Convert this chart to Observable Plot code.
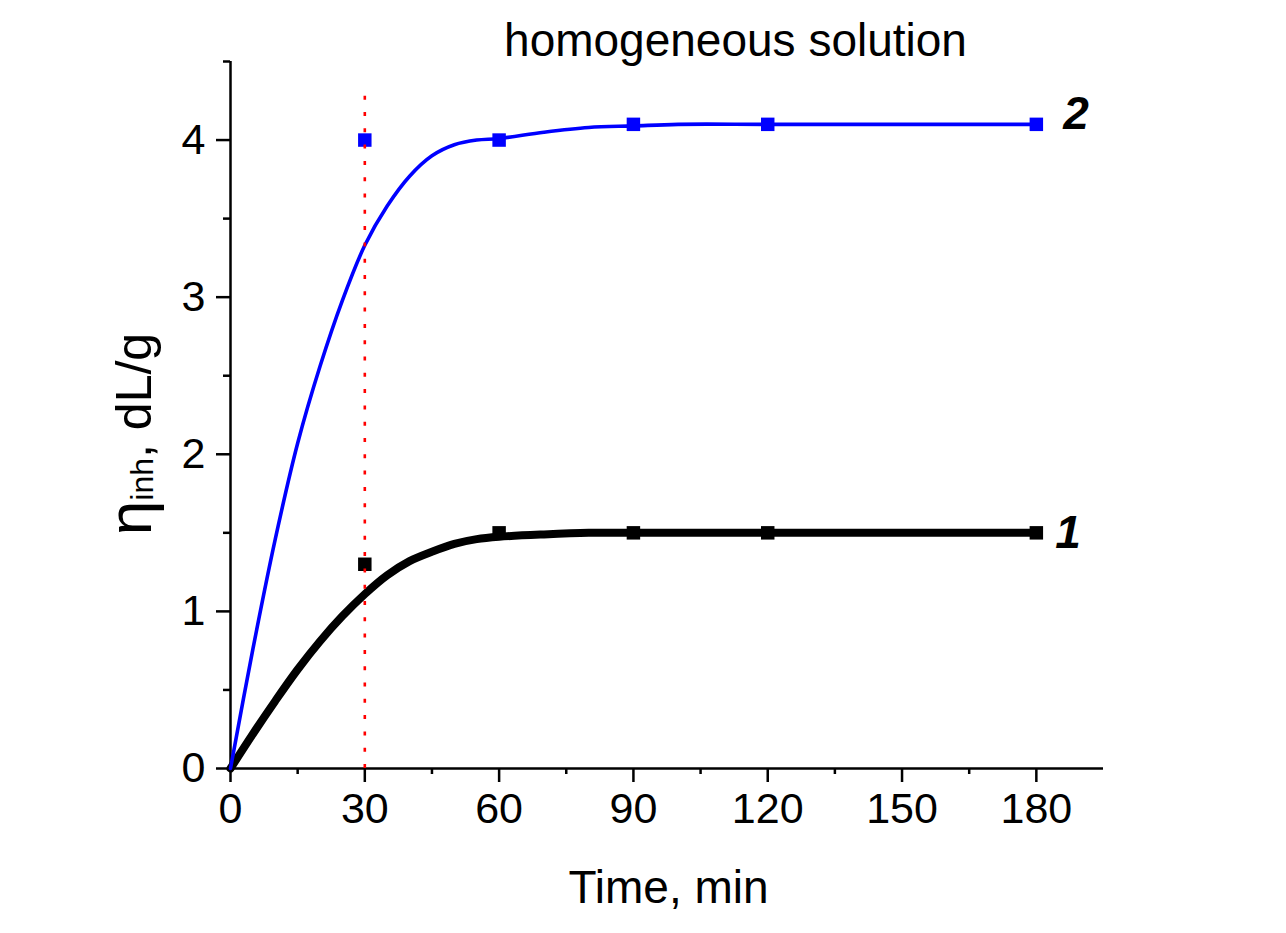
<!DOCTYPE html>
<html>
<head>
<meta charset="utf-8">
<script src="https://cdn.jsdelivr.net/npm/d3@7"></script>
<script src="https://cdn.jsdelivr.net/npm/@observablehq/plot@0.6"></script>
<style>
  html, body { margin: 0; padding: 0; background: #fff; }
  #chart svg { display: block; }
</style>
</head>
<body>
<div id="chart"></div>
<script>
// ---- data ----
const curve1T = [0, 5, 10, 15, 20, 25, 30, 35, 40, 45, 50, 55, 60, 70, 80, 90, 120, 150, 180];
const curve1V = [0, 0.22, 0.43, 0.63, 0.81, 0.97, 1.11, 1.23, 1.32, 1.38, 1.43, 1.46, 1.475, 1.49, 1.5, 1.5, 1.5, 1.5, 1.5];
const curve2T = [0, 5, 10, 15, 20, 25, 30, 35, 40, 45, 50, 55, 60, 70, 80, 90, 100, 120, 150, 180];
const curve2V = [0, 0.76, 1.46, 2.07, 2.56, 2.98, 3.33, 3.58, 3.77, 3.9, 3.97, 4.0, 4.01, 4.05, 4.08, 4.09, 4.1, 4.1, 4.1, 4.1];
const pointsT = [30, 60, 90, 120, 180];
const points1V = [1.3, 1.5, 1.5, 1.5, 1.5];
const points2V = [4.0, 4.0, 4.1, 4.1, 4.1];
const seriesNames = ["1", "2"];
const refLineX = [30];
const refLineTop = 4.32;
const xMajorTicks = [0, 30, 60, 90, 120, 150, 180];
const xMinorTicks = [15, 45, 75, 105, 135, 165];
const yMajorTicks = [0, 1, 2, 3, 4];
const yMinorTicks = [0.5, 1.5, 2.5, 3.5, 4.5];
const titleText = "homogeneous solution";
const xLabel = "Time, min";

const line1 = curve1T.map((t, i) => ({t, v: curve1V[i]}));
const line2 = curve2T.map((t, i) => ({t, v: curve2V[i]}));
const pts1 = pointsT.map((t, i) => ({t, v: points1V[i]}));
const pts2 = pointsT.map((t, i) => ({t, v: points2V[i]}));
const end1 = [{t: pointsT[pointsT.length - 1], v: points1V[points1V.length - 1], name: seriesNames[0]}];
const end2 = [{t: pointsT[pointsT.length - 1], v: points2V[points2V.length - 1], name: seriesNames[1]}];

const FONT = "'Liberation Sans', Arial, Helvetica, sans-serif";
const AX = 2.5;
const fmt = (d) => String(d);

const svg = Plot.plot({
  width: 1286,
  height: 933,
  marginLeft: 230,
  marginRight: 183,
  marginTop: 61,
  marginBottom: 165,
  style: {fontFamily: FONT, fontSize: "43px", color: "#000", background: "#fff", overflow: "visible"},
  x: {domain: [0, 195], ticks: xMajorTicks, label: null},
  y: {domain: [0, 4.5], ticks: yMajorTicks, label: null},
  marks: [
    // axes
    Plot.axisX(xMinorTicks, {tickSize: 6, text: null, strokeWidth: AX, label: null}),
    Plot.axisX(xMajorTicks, {tickSize: 14, tickPadding: 10, strokeWidth: AX, fontSize: 43, tickFormat: fmt, label: null}),
    Plot.axisY(yMinorTicks, {tickSize: 7, text: null, strokeWidth: AX, label: null}),
    Plot.axisY(yMajorTicks, {tickSize: 14, tickPadding: 11, strokeWidth: AX, fontSize: 43, tickFormat: fmt, label: null}),
    Plot.ruleY([0], {stroke: "#000", strokeWidth: AX}),
    Plot.ruleX([0], {stroke: "#000", strokeWidth: AX}),
    // markers
    Plot.dot(pts1, {x: "t", y: "v", symbol: "square", r: 7.6, fill: "#000", stroke: "none"}),
    Plot.dot(pts2, {x: "t", y: "v", symbol: "square", r: 7.6, fill: "#0000ff", stroke: "none"}),
    // fitted curves
    Plot.line(line1, {x: "t", y: "v", stroke: "#000", strokeWidth: 8, curve: "catmull-rom"}),
    Plot.line(line2, {x: "t", y: "v", stroke: "#0000ff", strokeWidth: 3.6, curve: "catmull-rom"}),
    // reference dotted line
    Plot.ruleX(refLineX, {y1: 0, y2: refLineTop, stroke: "#ff0000", strokeWidth: 2.6, strokeDasharray: "4,12.3"}),
    // series labels
    Plot.text(end1, {x: "t", y: "v", text: "name", dx: 19, dy: 0, textAnchor: "start",
      fontSize: 46, fontWeight: "bold", fontStyle: "italic", fill: "#000"}),
    Plot.text(end2, {x: "t", y: "v", text: "name", dx: 27, dy: -10, textAnchor: "start",
      fontSize: 46, fontWeight: "bold", fontStyle: "italic", fill: "#000"}),
    // title and x label
    Plot.text([titleText], {frameAnchor: "top", lineAnchor: "bottom", dx: 68.5, dy: -6, fontSize: 46, fill: "#000"}),
    Plot.text([xLabel], {frameAnchor: "bottom", lineAnchor: "bottom", dx: 1.5, dy: 134, fontSize: 46, fill: "#000"})
  ]
});

// y-axis label with subscript (real text)
const ylab = d3.select(svg).append("text")
  .attr("transform", "translate(151,434) rotate(-90)")
  .attr("text-anchor", "middle")
  .attr("font-family", FONT)
  .attr("fill", "#000");
ylab.append("tspan").attr("font-size", 62).text("η");
ylab.append("tspan").attr("font-size", 32).attr("dy", 2).text("inh");
ylab.append("tspan").attr("font-size", 50).attr("dy", -2).text(", dL/g");

document.getElementById("chart").appendChild(svg);
</script>
</body>
</html>
